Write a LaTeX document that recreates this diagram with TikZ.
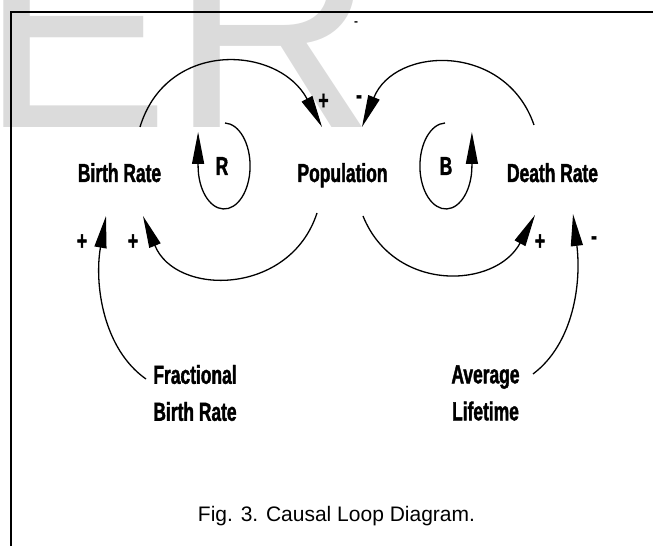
\documentclass[tikz,border=0pt]{standalone}
\usepackage{fontspec}
\setmainfont{Liberation Sans}
\newfontfamily\cldfont[FakeStretch=0.67,FakeBold=1.5]{Liberation Sans}
\usetikzlibrary{arrows.meta,positioning}

\begin{document}
\begin{tikzpicture}[x=1pt,y=1pt,-,>={Triangle[length=32pt,width=12pt]},line width=1.3pt,
    var/.style={font=\cldfont\bfseries\fontsize{26}{37}\selectfont,inner sep=0pt},
    main node/.style={var,text height=19pt,text depth=5pt},
    sign node/.style={var}]

    \useasboundingbox (0,0) rectangle (653,546);

    % watermark and frame
    \node[anchor=base west,inner sep=0pt,text=black!14,font=\fontsize{284}{284}\selectfont] (wm) at (-20,418) {ER};
    \draw[line width=2pt] (10.5,0) -- (10.5,534) -- (653,534);
    \node[font=\bfseries\fontsize{12}{12}\selectfont,inner sep=0pt] (dash) at (356,522) {-};

    \node[main node] (2) at (342.5,371) {Population};
    \node[main node] (1) [node distance=223pt, left of=2] {Birth Rate};
    \node[main node] (3) [node distance=210pt, right of=2] {Death Rate};
    \node[main node] (r) [node distance=120.5pt, left of=2, yshift=7pt] {R};
    \node[main node] (b) [node distance=103.5pt, right of=2, yshift=7pt] {B};
    \node[var, align=center] (4) [node distance=218pt, below of=1, xshift=75.5pt] {Fractional\\Birth Rate};
    \node[var, align=center] (5) [node distance=218pt, below of=3, xshift=-67pt] {Average\\Lifetime};

    \node[sign node] (s1) at (82,304) {+};
    \node[sign node] (s2) at (133,304) {+};
    \node[sign node] (s3) at (540,304) {+};
    \node[sign node] (s4) at (594,305.5) {-};
    \node[sign node] (s5) at (323.5,444.5) {+};
    \node[sign node] (s6) at (359,446.5) {-};

    \coordinate (1a) at (140,419);
    \coordinate (2a) at (322,419);
    \coordinate (3a) at (534,421);
    \coordinate (2b) at (362,419);
    \coordinate (2c) at (317,333);
    \coordinate (1c) at (143,330);
    \coordinate (2d) at (363,330);
    \coordinate (3d) at (535,331);
    \coordinate (4a) at (146,167);
    \coordinate (1e) at (106,330);
    \coordinate (5a) at (533,172);
    \coordinate (3e) at (573,332);
    \coordinate (r0) at (225,423);
    \coordinate (b0) at (445,423);

    \draw[->] (1a) to[out=73,in=118,looseness=1.3] (2a);
    \draw[->] (3a) to[out=109,in=68,looseness=1.3] (2b);
    \draw[->] (2c) to[out=-108,in=-68,looseness=1.28] (1c);
    \draw[->] (2d) to[out=-68,in=-118,looseness=1.24] (3d);
    \draw[->] (4a) to[out=145,in=-100,out looseness=0.8,in looseness=1.05] (1e);
    \draw[->] (5a) to[out=37,in=-83,out looseness=0.79,in looseness=1.08] (3e);

    % loop markers
    \draw[->] (r0) arc[start angle=88,end angle=-180,x radius=26,y radius=43] -- ++(0,34);
    \draw[->] (b0) arc[start angle=92,end angle=360,x radius=26,y radius=43] -- ++(0,34);

    \node[font=\fontsize{21}{25}\selectfont] (cap) at (336.5,29.5) {Fig. 3. Causal Loop Diagram.};
\end{tikzpicture}
\end{document}
